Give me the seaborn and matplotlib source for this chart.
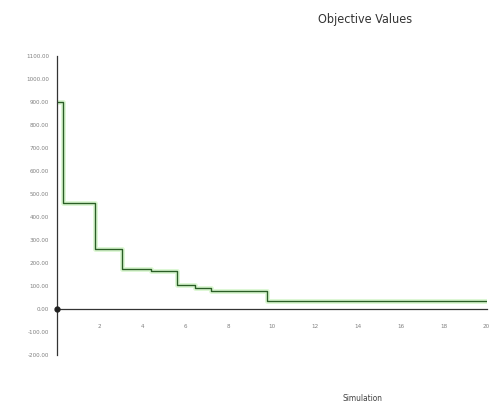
import numpy as np
import pandas as pd
import matplotlib
matplotlib.use('Agg')
import matplotlib.pyplot as plt
import seaborn as sns

# step points (simulation, objective value)
simulation = [0, 0.3, 1.8, 3.05, 4.4, 5.6, 6.45, 7.2, 9.8, 20]
objective = [900, 463, 261, 175, 167, 106, 94, 80, 37, 37]
y_ticks = [-200, -100, 0, 100, 200, 300, 400, 500, 600, 700, 800, 900, 1000, 1100]
x_ticks = [2, 4, 6, 8, 10, 12, 14, 16, 18, 20]

df = pd.DataFrame({'Simulation': simulation, 'Objective': objective})

sns.set_style('white')
plt.rcParams['font.family'] = ['DejaVu Sans']
plt.rcParams['font.stretch'] = 'condensed'

fig = plt.figure(figsize=(4.92, 4.07), dpi=100)
ax = fig.add_axes([0.115, 0.127, 0.874, 0.735])

# soft light green halo under the line
sns.lineplot(data=df, x='Simulation', y='Objective', drawstyle='steps-post',
             color='#c4f2b4', linewidth=3.5, alpha=0.6, ax=ax)
sns.lineplot(data=df, x='Simulation', y='Objective', drawstyle='steps-post',
             color='#2a5e26', linewidth=1.0, ax=ax)

ax.set_xlim(0, 20)
ax.set_ylim(-200, 1100)
ax.set_xlabel('')
ax.set_ylabel('')

ax.spines['left'].set_position(('data', 0))
ax.spines['bottom'].set_position(('data', 0))
ax.spines['top'].set_visible(False)
ax.spines['right'].set_visible(False)
for s in ['left', 'bottom']:
    ax.spines[s].set_color('#333333')
    ax.spines[s].set_linewidth(0.9)

ax.set_yticks(y_ticks)
ax.set_yticklabels(['0.00' if v == 0 else f'{v:.2f}' for v in y_ticks])
ax.set_xticks(x_ticks)
ax.set_xticklabels([str(v) for v in x_ticks])
ax.tick_params(axis='both', direction='inout', length=5, width=0.8,
               color='#333333', labelsize=4.5, labelcolor='#808080')
ax.tick_params(axis='x', pad=8)
ax.tick_params(axis='y', pad=3)

ax.plot([0], [0], 'o', color='#222222', markersize=3.5, clip_on=False, zorder=5)

fig.text(0.742, 0.952, 'Objective Values', ha='center', va='center',
         fontsize=9, color='#333333', fontstretch='condensed')
fig.text(0.736, 0.022, 'Simulation', ha='center', va='center',
         fontsize=6, color='#444444', fontstretch='condensed')

fig.savefig('out.png', dpi=100)
